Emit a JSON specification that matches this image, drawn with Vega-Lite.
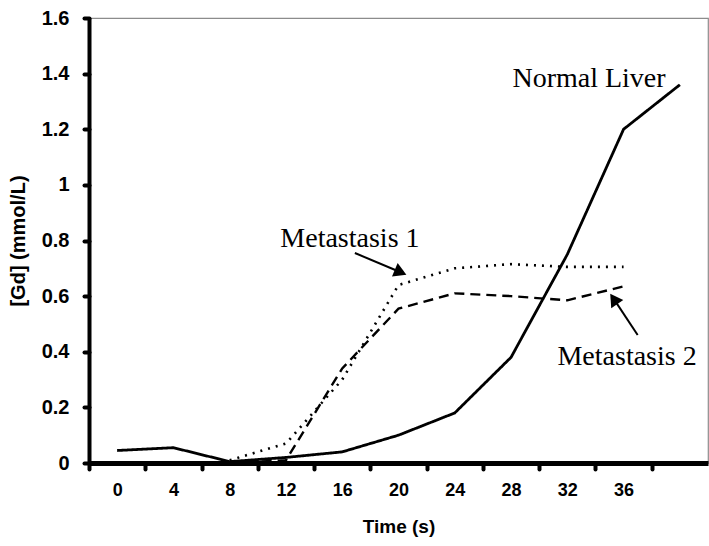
{
  "$schema": "https://vega.github.io/schema/vega-lite/v6.json",
  "width": 619,
  "height": 445,
  "autosize": {"type": "none"},
  "padding": {"left": 89, "top": 18, "right": 1, "bottom": 83},
  "background": "white",
  "config": {
    "view": {"stroke": "#8c8c8c", "strokeWidth": 1.2},
    "font": "Liberation Sans"
  },
  "datasets": {
    "curves": [
      {"t": 0, "gd": 0.045, "series": "Normal Liver"},
      {"t": 4, "gd": 0.055, "series": "Normal Liver"},
      {"t": 8, "gd": 0.005, "series": "Normal Liver"},
      {"t": 12, "gd": 0.02, "series": "Normal Liver"},
      {"t": 16, "gd": 0.04, "series": "Normal Liver"},
      {"t": 20, "gd": 0.1, "series": "Normal Liver"},
      {"t": 24, "gd": 0.18, "series": "Normal Liver"},
      {"t": 28, "gd": 0.38, "series": "Normal Liver"},
      {"t": 32, "gd": 0.75, "series": "Normal Liver"},
      {"t": 36, "gd": 1.2, "series": "Normal Liver"},
      {"t": 40, "gd": 1.36, "series": "Normal Liver"},
      {"t": 8, "gd": 0.01, "series": "Metastasis 1"},
      {"t": 12, "gd": 0.07, "series": "Metastasis 1"},
      {"t": 16, "gd": 0.3, "series": "Metastasis 1"},
      {"t": 20, "gd": 0.64, "series": "Metastasis 1"},
      {"t": 24, "gd": 0.7, "series": "Metastasis 1"},
      {"t": 28, "gd": 0.715, "series": "Metastasis 1"},
      {"t": 32, "gd": 0.705, "series": "Metastasis 1"},
      {"t": 36, "gd": 0.705, "series": "Metastasis 1"},
      {"t": 8, "gd": 0.0, "series": "Metastasis 2"},
      {"t": 12, "gd": 0.01, "series": "Metastasis 2"},
      {"t": 16, "gd": 0.34, "series": "Metastasis 2"},
      {"t": 20, "gd": 0.555, "series": "Metastasis 2"},
      {"t": 24, "gd": 0.61, "series": "Metastasis 2"},
      {"t": 28, "gd": 0.6, "series": "Metastasis 2"},
      {"t": 32, "gd": 0.585, "series": "Metastasis 2"},
      {"t": 36, "gd": 0.635, "series": "Metastasis 2"}
    ],
    "notes": [
      {"label": "Normal Liver", "t": 28.1, "gd": 1.352},
      {"label": "Metastasis 1", "t": 11.6, "gd": 0.777},
      {"label": "Metastasis 2", "t": 31.3, "gd": 0.352}
    ],
    "arrows": [
      {"label": "Metastasis 1", "t": 16.9, "gd": 0.755, "t2": 20.15, "gd2": 0.686},
      {"label": "Metastasis 2", "t": 37.0, "gd": 0.46, "t2": 35.3, "gd2": 0.59}
    ]
  },
  "layer": [
    {
      "data": {"name": "curves"},
      "mark": {"type": "line", "color": "black", "strokeCap": "butt"},
      "encoding": {
        "x": {
          "field": "t",
          "type": "quantitative",
          "scale": {"domain": [-2, 42], "nice": false, "zero": false},
          "axis": {
            "title": "Time (s)",
            "values": [0, 4, 8, 12, 16, 20, 24, 28, 32, 36, 40],
            "labelExpr": "datum.value <= 36 ? datum.label : ''",
            "tickOffset": -28.136,
            "labelOffset": 28.136,
            "labelOverlap": false,
            "labelFlush": false,
            "grid": false,
            "domainColor": "black",
            "domainWidth": 5,
            "tickColor": "black",
            "tickWidth": 4,
            "tickSize": 6,
            "tickCap": "round",
            "labelFont": "Liberation Sans",
            "labelFontWeight": "bold",
            "labelFontSize": 18,
            "labelColor": "black",
            "labelPadding": 12,
            "titleFont": "Liberation Sans",
            "titleFontWeight": "bold",
            "titleFontSize": 19,
            "titleColor": "black",
            "titlePadding": 18,
            "zindex": 1
          }
        },
        "y": {
          "field": "gd",
          "type": "quantitative",
          "scale": {"domain": [0, 1.6], "nice": false},
          "axis": {
            "title": "[Gd] (mmol/L)",
            "values": [0, 0.2, 0.4, 0.6, 0.8, 1, 1.2, 1.4, 1.6],
            "format": "~g",
            "grid": false,
            "domainColor": "black",
            "domainWidth": 4,
            "tickColor": "black",
            "tickWidth": 4,
            "tickSize": 5,
            "tickCap": "round",
            "labelFont": "Liberation Sans",
            "labelFontWeight": "bold",
            "labelFontSize": 20,
            "labelColor": "black",
            "labelPadding": 15,
            "titleFont": "Liberation Sans",
            "titleFontWeight": "bold",
            "titleFontSize": 20,
            "titleColor": "black",
            "titlePadding": 13,
            "zindex": 1
          }
        },
        "strokeDash": {
          "field": "series",
          "type": "nominal",
          "scale": {"domain": ["Normal Liver", "Metastasis 1", "Metastasis 2"], "range": [[1, 0], [2, 6], [10, 6]]},
          "legend": null
        },
        "strokeWidth": {
          "field": "series",
          "type": "nominal",
          "scale": {"domain": ["Normal Liver", "Metastasis 1", "Metastasis 2"], "range": [2.8, 2.4, 2.2]},
          "legend": null
        }
      }
    },
    {
      "data": {"name": "notes"},
      "mark": {"type": "text", "font": "Liberation Serif", "fontSize": 28, "align": "left", "baseline": "alphabetic", "color": "black"},
      "encoding": {
        "x": {"field": "t", "type": "quantitative"},
        "y": {"field": "gd", "type": "quantitative"},
        "text": {"field": "label"}
      }
    },
    {
      "data": {"name": "arrows"},
      "mark": {"type": "rule", "color": "black", "strokeWidth": 2},
      "encoding": {
        "x": {"field": "t", "type": "quantitative"},
        "y": {"field": "gd", "type": "quantitative"},
        "x2": {"field": "t2"},
        "y2": {"field": "gd2"}
      }
    },
    {
      "data": {"name": "arrows"},
      "transform": [{"filter": "datum.label == 'Metastasis 1'"}],
      "mark": {"type": "point", "shape": "triangle-up", "filled": true, "color": "black", "opacity": 1, "size": 210, "angle": 113},
      "encoding": {
        "x": {"field": "t2", "type": "quantitative"},
        "y": {"field": "gd2", "type": "quantitative"}
      }
    },
    {
      "data": {"name": "arrows"},
      "transform": [{"filter": "datum.label == 'Metastasis 2'"}],
      "mark": {"type": "point", "shape": "triangle-up", "filled": true, "color": "black", "opacity": 1, "size": 210, "angle": 326},
      "encoding": {
        "x": {"field": "t2", "type": "quantitative"},
        "y": {"field": "gd2", "type": "quantitative"}
      }
    }
  ]
}
